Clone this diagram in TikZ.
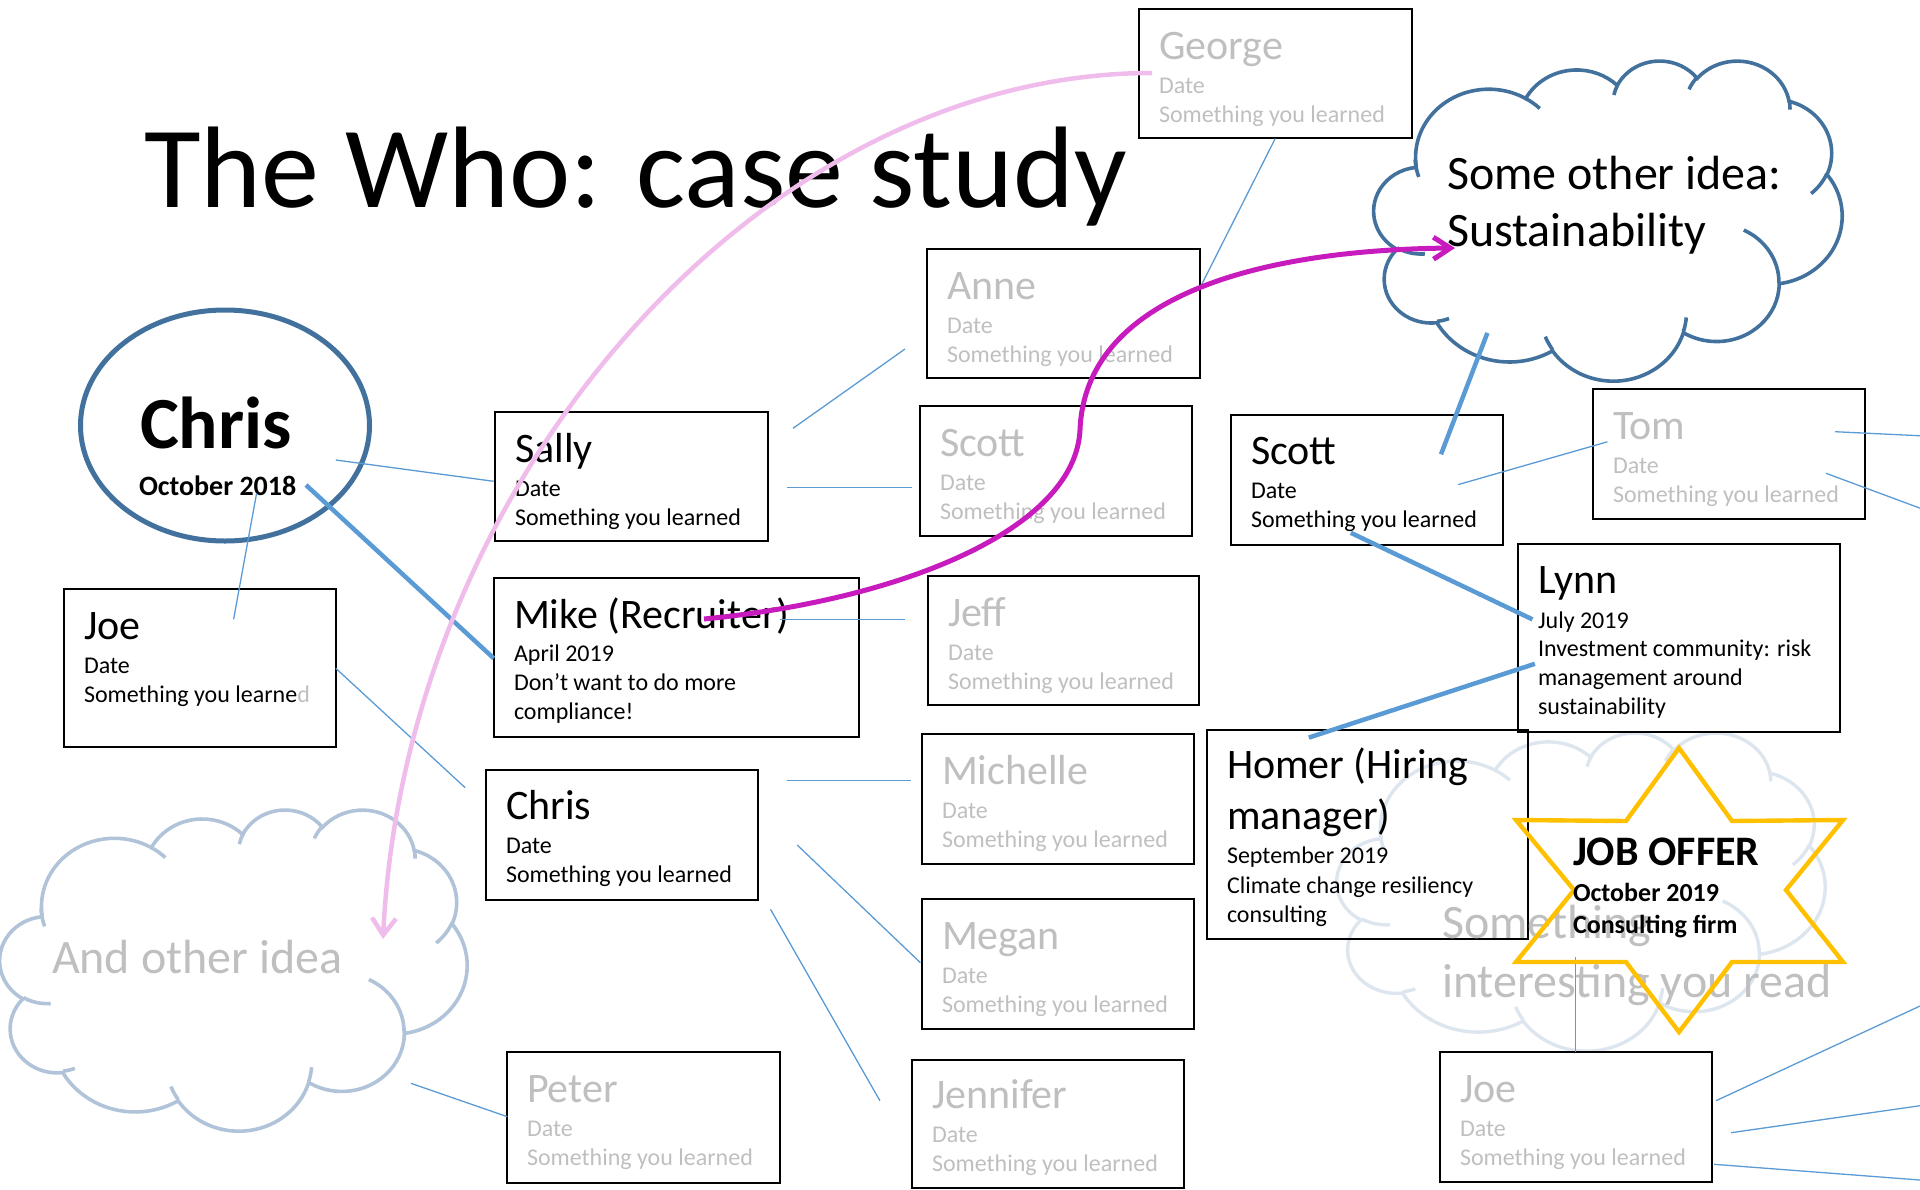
\documentclass[tikz,border=0pt]{standalone}
\usepackage{fontspec}
\setmainfont{Carlito}
\usetikzlibrary{arrows.meta,shapes.geometric}
\definecolor{lineblue}{HTML}{5B9BD5}
\definecolor{darkblue}{HTML}{41719C}
\definecolor{paleblue}{HTML}{B1C3D8}
\definecolor{paleblue2}{HTML}{DDE5EF}
\definecolor{txtgray}{HTML}{BFBFBF}
\definecolor{magentaline}{HTML}{C81BBE}
\definecolor{pinkline}{HTML}{F0BCEB}
\definecolor{goldstar}{HTML}{FFC000}

\newcommand\LL[2]{\baselineskip=#1pt\hbox{#2}}
\newcommand\stack[1]{\vtop{\lineskiplimit=-1000pt\lineskip=0pt #1}}
\newcommand\nm{\fontsize{42}{42}\selectfont}
\newcommand\sm{\fontsize{24}{24}\selectfont}
\newcommand\entry[3]{\stack{\LL{0}{\nm #1}\LL{34}{\sm #2}\LL{29}{\sm #3}}}

\tikzset{
  declare function={vp(\x,\y,\z)=\x+(atan2(\y*sin(\x),\z*cos(\x))-\x)-360*round((atan2(\y*sin(\x),\z*cos(\x))-\x)/360);},
  ooarc/.style n args={4}{insert path={arc[x radius=#1, y radius=#2, start angle={vp(#3,#1,#2)}, delta angle={vp(#3+#4,#1,#2)-vp(#3,#1,#2)}]}},
  box/.style={draw=black, line width=2pt, rectangle, inner sep=0pt, outer sep=0pt},
  txt/.style={anchor=base west, inner sep=0pt, outer sep=0pt},
  graytxt/.style={txt, text=txtgray},
  thinl/.style={draw=lineblue, line width=1.3pt},
  thickl/.style={draw=lineblue, line width=4.5pt},
  cloudA/.style={draw=darkblue, line width=3.6pt},
  cloudB/.style={draw=paleblue, line width=3.6pt},
  cloudC/.style={draw=paleblue2, line width=3.4pt},
  starline/.style={draw=goldstar, line width=4.4pt, line join=miter},
  pinkarrow/.style={draw=pinkline, line width=4.5pt, -{Straight Barb[length=17pt,width=24pt]}},
  magarrow/.style={draw=magentaline, line width=5pt, -{Straight Barb[length=17pt,width=22pt]}},
}

\newcommand\oocloud[5]{%
\begin{scope}[shift={(#1,#2)}, xscale=#3/43.2, yscale=#4/43.2]
\draw[#5] (3.9,14.37) [ooarc={6.753}{9.19}{-190.48748}{123.78053}]
  [ooarc={5.333}{7.267}{-144.10238}{89.94523}]
  [ooarc={4.365}{5.945}{-145.80792}{99.72302}]
  [ooarc={4.857}{6.595}{-130.98607}{117.24173}]
  [ooarc={5.333}{7.273}{-78.70888}{109.02692}]
  [ooarc={6.775}{9.22}{-46.26725}{130.269}]
  [ooarc={5.785}{7.867}{0.62502}{114.03333}]
  [ooarc={6.752}{9.215}{22.4516}{115.17255}]
  [ooarc={7.72}{10.543}{66.24263}{75.71102}]
  [ooarc={4.36}{5.918}{-274.94208}{146.73557}]
  [ooarc={4.345}{5.945}{-246.8285}{152.51885}] -- cycle;
\draw[#5] (4.693,26.177) [ooarc={4.345}{5.945}{86.742}{26.4295}]
  (6.928,34.899) [ooarc={4.36}{5.918}{73.61047}{11.44747}]
  (16.478,39.09) [ooarc={6.752}{9.215}{137.62415}{14.0811}]
  (28.827,34.751) [ooarc={6.752}{9.215}{6.45327}{15.99835}]
  (34.129,22.954) [ooarc={5.785}{7.867}{-70.29235}{70.91737}]
  (41.798,15.354) [ooarc={5.333}{7.273}{30.31803}{27.7515}]
  (38.324,5.426) [ooarc={4.857}{6.595}{-13.74433}{14.8589}]
  (29.078,3.952) [ooarc={4.857}{6.595}{-149.18145}{18.19537}]
  (22.141,4.72) [ooarc={4.365}{5.945}{-163.49427}{17.68635}]
  (14,5.192) [ooarc={6.753}{9.19}{-66.70695}{12.31935}]
  (4.127,15.789) [ooarc={6.753}{9.19}{155.6472}{19.82642}];
\end{scope}}

\begin{document}
\begin{tikzpicture}[x=1pt, y=-1pt]
\useasboundingbox (0,0) rectangle (1920,1189);
\clip (0,0) rectangle (1920,1189);

% clouds
\oocloud{1337}{732}{488}{318}{cloudC}
\oocloud{1374}{60}{468}{320}{cloudA}
\oocloud{0}{809}{467}{321}{cloudB}

% title
\node[txt] (title) at (144,207) {\fontsize{116}{116}\selectfont The Who: case study};

% central circle
\node[draw=darkblue, line width=5pt, ellipse, minimum width=289pt, minimum height=231pt, inner sep=0pt] (chrisc) at (225,425.5) {};
\node[txt] (chrisc-n) at (140,448) {\fontsize{73.5}{73.5}\selectfont\bfseries Chris};
\node[txt] (chrisc-d) at (139,495) {\fontsize{28}{28}\selectfont\bfseries October 2018};

% boxes
\node[box, minimum width=273pt, minimum height=129pt] (george) at (1275.5,73.5) {};
\node[box, minimum width=273pt, minimum height=129pt] (anne) at (1063.5,313.5) {};
\node[box, minimum width=272pt, minimum height=130pt] (scottg) at (1056,471) {};
\node[box, minimum width=272pt, minimum height=130pt] (scott) at (1367,480) {};
\node[box, minimum width=272pt, minimum height=130pt] (tom) at (1729,454) {};
\node[box, minimum width=273pt, minimum height=129pt] (sally) at (631.5,476.5) {};
\node[box, minimum width=365pt, minimum height=159pt] (mike) at (676.5,657.5) {};
\node[box, minimum width=272pt, minimum height=158pt] (joe) at (200,668) {};
\node[box, minimum width=271pt, minimum height=129pt] (jeff) at (1063.5,640.5) {};
\node[box, minimum width=322pt, minimum height=188pt] (lynn) at (1679,638) {};
\node[box, minimum width=321pt, minimum height=209pt] (homer) at (1367.5,834.5) {};
\node[box, minimum width=272pt, minimum height=130pt] (joeg) at (1576,1117) {};
\node[box, minimum width=272pt, minimum height=130pt] (chrisb) at (622,835) {};
\node[box, minimum width=272pt, minimum height=130pt] (michelle) at (1058,799) {};
\node[box, minimum width=272pt, minimum height=130pt] (megan) at (1058,964) {};
\node[box, minimum width=273pt, minimum height=131pt] (peter) at (643.5,1117.5) {};
\node[box, minimum width=272pt, minimum height=128pt] (jennifer) at (1048,1124) {};

% box texts
\node[graytxt] (george-t) at (1159,59) {\entry{George}{Date}{Something you learned}};
\node[graytxt] (anne-t) at (947,299) {\entry{Anne}{Date}{Something you learned}};
\node[graytxt] (scottg-t) at (940,456) {\entry{Scott}{Date}{Something you learned}};
\node[txt] (scott-t) at (1251,464) {\entry{Scott}{Date}{Something you learned}};
\node[graytxt] (tom-t) at (1613,439) {\entry{Tom}{Date}{Something you learned}};
\node[txt] (sally-t) at (515,462) {\entry{Sally}{Date}{Something you learned}};
\node[graytxt] (jeff-t) at (948,626) {\entry{Jeff}{Date}{Something you learned}};
\node[txt] (joe-t) at (84,639) {\entry{Joe}{Date}{Something you learne\textcolor{txtgray}{d}}};
\node[txt] (chrisb-t) at (506,819) {\entry{Chris}{Date}{Something you learned}};
\node[graytxt] (michelle-t) at (942,784) {\entry{Michelle}{Date}{Something you learned}};
\node[graytxt] (megan-t) at (942,949) {\entry{Megan}{Date}{Something you learned}};
\node[graytxt] (peter-t) at (527,1102) {\entry{Peter}{Date}{Something you learned}};
\node[graytxt] (jennifer-t) at (932,1108) {\entry{Jennifer}{Date}{Something you learned}};
\node[graytxt] (joeg-t) at (1460,1102) {\entry{Joe}{Date}{Something you learned}};
\node[txt] (mike-t) at (514,628) {\stack{\LL{0}{\nm Mike (Recruiter)}\LL{33}{\sm April 2019}\LL{29}{\sm Don’t want to do more}\LL{29}{\sm compliance!}}};
\node[txt] (lynn-t) at (1538,593) {\stack{\LL{0}{\nm Lynn}\LL{35}{\sm July 2019}\LL{28}{\sm Investment community: risk}\LL{29}{\sm management around}\LL{29}{\sm sustainability}}};
\node[txt] (homer-t) at (1227,778) {\stack{\LL{0}{\nm Homer (Hiring}\LL{51}{\nm manager)}\LL{34}{\sm September 2019}\LL{30}{\sm Climate change resiliency}\LL{29}{\sm consulting}}};

% cloud texts
\node[txt] (cloudA-t) at (1447,189) {\stack{\LL{0}{\fontsize{48}{48}\selectfont Some other idea:}\LL{57}{\fontsize{48}{48}\selectfont Sustainability}}};
\node[graytxt] (cloudB-t) at (52,973) {\fontsize{48}{48}\selectfont And other idea};
\node[graytxt] (cloudC-t) at (1442,938) {\stack{\LL{0}{\fontsize{48}{48}\selectfont Something}\LL{59}{\fontsize{48}{48}\selectfont interesting you read}}};

% connector end points
\coordinate (a1) at (335.8,460);   \coordinate (a2) at (493.7,481.3);
\coordinate (b1) at (256.6,493.3); \coordinate (b2) at (233.6,619.3);
\coordinate (c1) at (306,485);     \coordinate (c2) at (493.7,658.3);
\coordinate (d1) at (793,428.3);   \coordinate (d2) at (905,349);
\coordinate (e1) at (787,487.7);   \coordinate (e2) at (912,487.7);
\coordinate (f1) at (780.4,619.3); \coordinate (f2) at (905.4,619.3);
\coordinate (g1) at (335.8,668.3); \coordinate (g2) at (465.2,787.7);
\coordinate (h1) at (786.5,780.7); \coordinate (h2) at (910.5,780.7);
\coordinate (i1) at (797.2,845);   \coordinate (i2) at (920.4,962.7);
\coordinate (j1) at (770.5,909.3); \coordinate (j2) at (879.9,1100.7);
\coordinate (k1) at (410.9,1083.3);\coordinate (k2) at (507.3,1116.7);
\coordinate (l1) at (1199.6,288.6);\coordinate (l2) at (1275.2,138.6);
\coordinate (m1) at (1487.4,332.9);\coordinate (m2) at (1441,454.3);
\coordinate (n1) at (1458.2,484.6);\coordinate (n2) at (1607.4,441.8);
\coordinate (o1) at (1835,431.7);  \coordinate (o2) at (1925,436);
\coordinate (p1) at (1826,473.3);  \coordinate (p2) at (1925,510);
\coordinate (q1) at (1350.8,532.8);\coordinate (q2) at (1532.5,619.4);
\coordinate (r1) at (1308.8,737.6);\coordinate (r2) at (1534.9,663.8);
\coordinate (s1) at (1575.5,957);  \coordinate (s2) at (1575.5,1052);
\coordinate (t1) at (1716,1100.7); \coordinate (t2) at (1925,1003.7);
\coordinate (u1) at (1731,1132.7); \coordinate (u2) at (1925,1105);
\coordinate (v1) at (1714,1164.3); \coordinate (v2) at (1925,1180.4);

% connectors
\draw[thinl] (a1) -- (a2);
\draw[thinl] (b1) -- (b2);
\draw[thickl] (c1) -- (c2);
\draw[thinl] (d1) -- (d2);
\draw[thinl] (e1) -- (e2);
\draw[thinl] (f1) -- (f2);
\draw[thinl] (g1) -- (g2);
\draw[thinl] (h1) -- (h2);
\draw[thinl] (i1) -- (i2);
\draw[thinl] (j1) -- (j2);
\draw[thinl] (k1) -- (k2);
\draw[thinl] (l1) -- (l2);
\draw[thickl] (m1) -- (m2);
\draw[thinl] (n1) -- (n2);
\draw[thinl] (o1) -- (o2);
\draw[thinl] (p1) -- (p2);
\draw[thickl] (q1) -- (q2);
\draw[thickl] (r1) -- (r2);
\draw[thinl] (s1) -- (s2);
\draw[thinl] (t1) -- (t2);
\draw[thinl] (u1) -- (u2);
\draw[thinl] (v1) -- (v2);

% star
\draw[starline] (1679,748) -- (1732,821) -- (1843,820) -- (1786,890) -- (1843,962) -- (1732,962) -- (1679,1032) -- (1626,962) -- (1516,962) -- (1574,890) -- (1516,820) -- (1626,821) -- cycle;
\node[txt] (offer-t) at (1573,865) {\stack{\LL{0}{\fontsize{42}{42}\selectfont\bfseries JOB OFFER}\LL{36}{\fontsize{26}{26}\selectfont\bfseries October 2019}\LL{32}{\fontsize{26}{26}\selectfont\bfseries Consulting firm}}};

% curved arrows
\coordinate (pk1) at (1152,73);  \coordinate (pk2) at (383,939);
\draw[pinkarrow] (pk1) .. controls (760,73) and (405,480) .. (pk2);
\coordinate (mg1) at (704,619);  \coordinate (mgm) at (1080,430); \coordinate (mg2) at (1455,248);
\draw[magarrow] (mg1) .. controls (900,600) and (1075,530) .. (mgm) .. controls (1085,300) and (1250,250) .. (mg2);
\end{tikzpicture}
\end{document}
